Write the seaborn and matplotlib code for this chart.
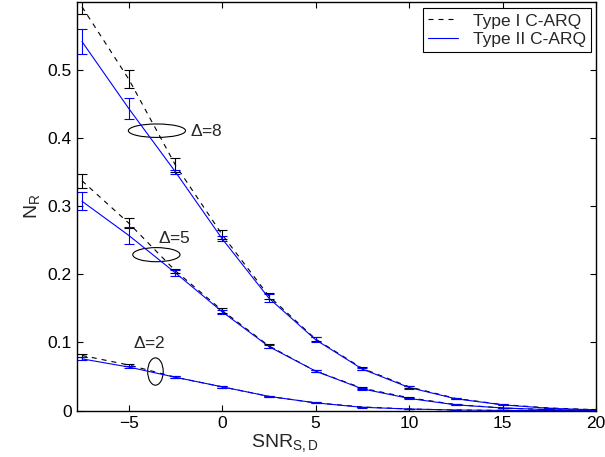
import pandas as pd
import matplotlib
matplotlib.use('Agg')
import matplotlib.pyplot as plt
from matplotlib.patches import Ellipse
from matplotlib.lines import Line2D
import seaborn as sns

# SNR_{S,D} grid (dB)
snr = [-7.5, -5, -2.5, 0, 2.5, 5, 7.5, 10, 12.5, 15, 17.5, 20]

# Delta = 8
d8_type1 = [0.592, 0.486, 0.360, 0.258, 0.168, 0.105, 0.062, 0.035, 0.018, 0.009, 0.004, 0.0015]
d8_type1_err = [0.010, 0.013, 0.010, 0.007, 0.005, 0.003, 0.002, 0.0015, 0.001, 0.0008, 0.0005, 0.0003]
d8_type2 = [0.541, 0.443, 0.350, 0.252, 0.165, 0.104, 0.061, 0.034, 0.0175, 0.0086, 0.0035, 0.0012]
d8_type2_err = [0.018, 0.016, 0.003, 0.004, 0.006, 0.004, 0.002, 0.002, 0.001, 0.0008, 0.0005, 0.0003]

# Delta = 5
d5_type1 = [0.337, 0.275, 0.205, 0.147, 0.095, 0.058, 0.033, 0.019, 0.009, 0.004, 0.0015, 0.0005]
d5_type1_err = [0.010, 0.007, 0.003, 0.004, 0.003, 0.002, 0.0015, 0.001, 0.0008, 0.0005, 0.0003, 0.0002]
d5_type2 = [0.307, 0.257, 0.202, 0.145, 0.094, 0.058, 0.032, 0.018, 0.0086, 0.004, 0.0015, 0.0005]
d5_type2_err = [0.0135, 0.012, 0.004, 0.003, 0.002, 0.002, 0.0015, 0.001, 0.0008, 0.0005, 0.0003, 0.0002]

# Delta = 2
d2_type1 = [0.081, 0.067, 0.049, 0.035, 0.021, 0.0115, 0.0055, 0.0025, 0.001, 0.0004, 0.0002, 0.0001]
d2_type1_err = [0.002, 0.002, 0.0015, 0.001, 0.001, 0.0008, 0.0005, 0.0004, 0.0003, 0.0002, 0.0001, 0.0001]
d2_type2 = [0.076, 0.064, 0.049, 0.035, 0.021, 0.0115, 0.005, 0.0025, 0.001, 0.0004, 0.0002, 0.0001]
d2_type2_err = [0.002, 0.002, 0.0015, 0.001, 0.001, 0.0008, 0.0005, 0.0004, 0.0003, 0.0002, 0.0001, 0.0001]

schemes = ['Type I C-ARQ', 'Type II C-ARQ']
deltas = [8, 5, 2]
delta_labels = [r'$\Delta$=8', r'$\Delta$=5', r'$\Delta$=2']

series = {
    (8, schemes[0]): (d8_type1, d8_type1_err),
    (8, schemes[1]): (d8_type2, d8_type2_err),
    (5, schemes[0]): (d5_type1, d5_type1_err),
    (5, schemes[1]): (d5_type2, d5_type2_err),
    (2, schemes[0]): (d2_type1, d2_type1_err),
    (2, schemes[1]): (d2_type2, d2_type2_err),
}

rows = []
for (d, s), (vals, errs) in series.items():
    for x, v, e in zip(snr, vals, errs):
        rows.append({'snr': x, 'nr': v, 'err': e, 'scheme': s, 'delta': d})
df = pd.DataFrame(rows)

sns.set_theme(style='ticks')
plt.rcParams['font.family'] = ['Liberation Sans', 'DejaVu Sans']
plt.rcParams['mathtext.fontset'] = 'custom'
plt.rcParams['mathtext.rm'] = 'Liberation Sans'
plt.rcParams['mathtext.it'] = 'Liberation Sans'
plt.rcParams['mathtext.default'] = 'regular'

colors = {schemes[0]: 'black', schemes[1]: 'blue'}
dash_styles = {schemes[0]: (4.5, 4.5), schemes[1]: ''}

fig = plt.figure(figsize=(6.05, 4.57), dpi=100)
ax = fig.add_axes([0.1278, 0.1013, 0.8573, 0.8943])

sns.lineplot(data=df, x='snr', y='nr', hue='scheme', style='scheme', units='delta',
             estimator=None, palette=colors, dashes=dash_styles, linewidth=0.8,
             legend=False, ax=ax, hue_order=schemes, style_order=schemes, sort=False)

for s in schemes:
    sub = df[df.scheme == s]
    ax.errorbar(sub['snr'], sub['nr'], yerr=sub['err'], fmt='none', ecolor=colors[s],
                elinewidth=0.8, capsize=3.6, capthick=0.8)

# ellipses marking each Delta group
ell_x = [-3.49, -3.52, -3.57]
ell_y = [0.4104, 0.2287, 0.0574]
ell_w = [3.06, 2.53, 0.83]
ell_h = [0.0197, 0.0207, 0.040]
lab_x = [-1.73, -3.42, -4.75]
lab_y = [0.410, 0.253, 0.0987]
for i in range(3):
    ax.add_patch(Ellipse((ell_x[i], ell_y[i]), ell_w[i], ell_h[i], fill=False,
                         edgecolor='black', linewidth=0.8))
    ax.text(lab_x[i], lab_y[i], delta_labels[i], fontsize=12.5, ha='left', va='center')

ax.set_xlim(-7.75, 20)
ax.set_ylim(0, 0.599)
ax.set_xticks([-5, 0, 5, 10, 15, 20])
ax.set_yticks([0, 0.1, 0.2, 0.3, 0.4, 0.5])
ax.set_yticklabels(['0', '0.1', '0.2', '0.3', '0.4', '0.5'])
ax.tick_params(direction='in', top=True, right=True, length=4, width=0.8,
               labelsize=12.5, pad=4, colors='black')
for sp in ax.spines.values():
    sp.set_linewidth(1.0)
    sp.set_color('black')

ax.set_xlabel(r'SNR$_{S,D}$', fontsize=14)
ax.xaxis.set_label_coords(0.40, -0.052)
ax.set_ylabel(r'N$_R$', fontsize=14, labelpad=4)

handles = [Line2D([], [], color='black', lw=0.8, dashes=(4.5, 4.5)),
           Line2D([], [], color='blue', lw=0.8)]
leg = ax.legend(handles, schemes, loc='upper right', bbox_to_anchor=(0.990, 0.985),
                borderaxespad=0, fontsize=12.5, frameon=True, fancybox=False,
                edgecolor='black', framealpha=1, handlelength=1.72, handletextpad=0.86,
                labelspacing=0.2, borderpad=0.3)
leg.get_frame().set_linewidth(0.8)

fig.savefig('out.png', dpi=100)
